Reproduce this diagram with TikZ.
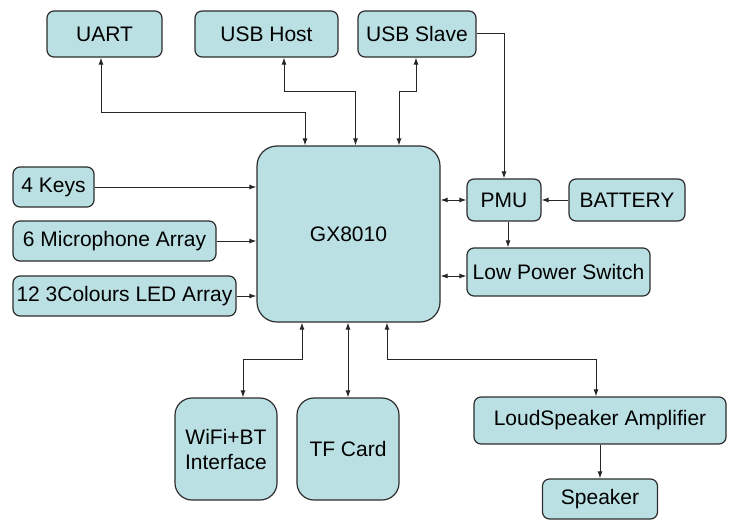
\documentclass[tikz,border=0pt]{standalone}
\usepackage{fontspec}
\setmainfont{Liberation Sans}
\usepackage{tikz}
\usetikzlibrary{arrows.meta,positioning}

\definecolor{boxfill}{RGB}{187,224,227}
\definecolor{boxline}{RGB}{45,45,45}

\begin{document}
\begin{tikzpicture}[x=1pt,y=1pt,on grid,
  blk/.style={draw=boxline, fill=boxfill, line width=1.2pt, rounded corners=7pt,
    inner sep=0pt, align=center, font=\fontsize{21}{25}\selectfont},
  link/.style={draw=black!85, line width=1pt, >={Latex[length=7pt,width=5pt]}}]
  \useasboundingbox (0,0) rectangle (735,-527);

  % the chip
  \node[blk, rounded corners=20pt, minimum width=183pt, minimum height=176pt] (gx) at (348.5,-234) {GX8010};

  % top row
  \node[blk, minimum width=143pt, minimum height=46pt] (host) [above=200pt of gx, xshift=-82pt] {USB Host};
  \node[blk, minimum width=115pt, minimum height=46pt] (uart) [left=162pt of host] {UART};
  \node[blk, minimum width=118pt, minimum height=46pt] (slave) [right=150.5pt of host] {USB Slave};

  % left column
  \node[blk, minimum width=81pt, minimum height=40pt] (keys) [left=295pt of gx, yshift=47pt] {4 Keys};
  \node[blk, minimum width=203pt, minimum height=40pt] (mic) [below=54pt of keys, xshift=61pt] {6 Microphone Array};
  \node[blk, minimum width=223pt, minimum height=40pt] (led) [below=55pt of mic, xshift=10pt] {12 3Colours LED Array};

  % power
  \node[blk, minimum width=74pt, minimum height=42pt] (pmu) [right=155.5pt of gx, yshift=34pt] {PMU};
  \node[blk, minimum width=116pt, minimum height=42pt] (bat) [right=123pt of pmu] {BATTERY};
  \node[blk, minimum width=183pt, minimum height=48pt] (lps) [below=72pt of pmu, xshift=54.5pt] {Low Power Switch};

  % bottom row
  \node[blk, rounded corners=17pt, minimum width=102pt, minimum height=102pt] (tf) [below=215pt of gx, xshift=-0.5pt] {TF Card};
  \node[blk, rounded corners=17pt, minimum width=102pt, minimum height=102pt] (wifi) [left=122pt of tf] {WiFi+BT\\Interface};
  \node[blk, minimum width=252pt, minimum height=47pt] (amp) [below=186.5pt of gx, xshift=251.5pt] {LoudSpeaker Amplifier};
  \node[blk, minimum width=115pt, minimum height=40pt] (spk) [below=78.5pt of amp] {Speaker};

  % links to the top
  \draw[link, <->] ([xshift=-3.5pt]uart.south) -- ++(0,-55) -| ([xshift=-43.5pt]gx.north);
  \draw[link, <->] ([xshift=17.5pt]host.south) -- ++(0,-34) -| ([xshift=7pt]gx.north);
  \draw[link, <->] ([xshift=-1pt]slave.south) -- ++(0,-34) -| ([xshift=50.5pt]gx.north);
  \draw[link, ->] (slave.east) -| (pmu.north);

  % inputs
  \draw[link, ->] (keys.east) -- (keys.east -| gx.west);
  \draw[link, ->] (mic.east) -- (mic.east -| gx.west);
  \draw[link, ->] (led.east) -- (led.east -| gx.west);

  % power side
  \draw[link, <->] (pmu.west -| gx.east) -- (pmu.west);
  \draw[link, <->] ([yshift=-4pt]lps.west -| gx.east) -- ([yshift=-4pt]lps.west);
  \draw[link, ->] (bat.west) -- (pmu.east);
  \draw[link, ->] ([xshift=4pt]pmu.south) -- ([xshift=4pt]pmu.south |- lps.north);

  % links to the bottom
  \draw[link, <->] ([xshift=-46.5pt]gx.south) -- ++(0,-37) -| ([xshift=17pt]wifi.north);
  \draw[link, <->] (tf.north) -- (tf.north |- gx.south);
  \draw[link, <->] ([xshift=38.5pt]gx.south) -- ++(0,-37) -| ([xshift=-4pt]amp.north);
  \draw[link, ->] (amp.south) -- (spk.north);
\end{tikzpicture}
\end{document}
